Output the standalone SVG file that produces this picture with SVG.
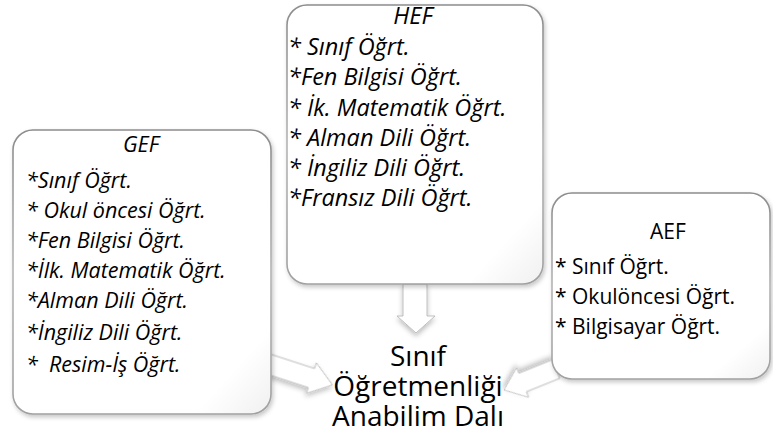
<svg xmlns="http://www.w3.org/2000/svg" width="773" height="437" viewBox="0 0 773 437">
  <defs>
    <linearGradient id="edge" x1="0" y1="0" x2="0" y2="1">
      <stop offset="0" stop-color="#8c8c8c"/>
      <stop offset="0.5" stop-color="#b4b4b4"/>
      <stop offset="1" stop-color="#a0a0a0"/>
    </linearGradient>
    <linearGradient id="face" x1="0" y1="0" x2="1" y2="1">
      <stop offset="0" stop-color="#ffffff"/>
      <stop offset="0.85" stop-color="#ffffff"/>
      <stop offset="1" stop-color="#f0f0f0"/>
    </linearGradient>
    <filter id="soft" x="-10%" y="-10%" width="125%" height="125%">
      <feDropShadow dx="1.5" dy="2.5" stdDeviation="2" flood-color="#000" flood-opacity="0.22"/>
    </filter>
    <filter id="arrowShade" x="-30%" y="-30%" width="160%" height="180%">
      <feDropShadow dx="0" dy="3" stdDeviation="2.5" flood-color="#000" flood-opacity="0.25"/>
    </filter>
  </defs>
  <style>
    .box { fill: url(#face); stroke: url(#edge); stroke-width: 1.6; filter: url(#soft); }
    .arrow { fill: #ffffff; stroke: #b8b8b8; stroke-width: 0.9; filter: url(#arrowShade); }
    .it { font-family: "Open Sans", "Liberation Sans", sans-serif; font-style: italic; font-size: 21.5px; fill: #000; }
    .it-wide { font-size: 23.5px; }
    .up { font-family: "Open Sans", "Liberation Sans", sans-serif; font-size: 21px; fill: #000; }
    .hub { font-family: "Open Sans", "Liberation Sans", sans-serif; font-size: 28px; fill: #000; text-anchor: middle; }
    .mid { text-anchor: middle; }
  </style>

  <!-- block arrows feeding the department label -->
  <g id="connectors">
    <polygon class="arrow" points="403,284 427,284 427,316 435,316 416,333 397,316 403,316"/>
    <polygon class="arrow" transform="translate(262,362) rotate(18)" points="0,-10 52,-10 52,-16 74,0 52,16 52,10 0,10"/>
    <polygon class="arrow" transform="translate(556,369) rotate(158)" points="0,-10 36,-10 36,-16 56,0 36,16 36,10 0,10"/>
  </g>

  <g id="gef">
    <rect class="box" x="13" y="130" width="258" height="284" rx="20"/>
    <text class="it" xml:space="preserve"><tspan class="mid" x="141" y="152">GEF</tspan><tspan x="26" y="188">*Sınıf Öğrt.</tspan><tspan x="26" y="218">* Okul öncesi Öğrt.</tspan><tspan x="26" y="248">*Fen Bilgisi Öğrt.</tspan><tspan x="26" y="278">*İlk. Matematik Öğrt.</tspan><tspan x="26" y="308">*Alman Dili Öğrt.</tspan><tspan x="26" y="340">*İngiliz Dili Öğrt.</tspan><tspan x="26" y="372">*  Resim-İş Öğrt.</tspan></text>
  </g>

  <g id="hef">
    <rect class="box" x="287" y="5" width="256" height="279" rx="20"/>
    <text class="it it-wide"><tspan class="mid" x="413" y="24">HEF</tspan><tspan x="288" y="55">* Sınıf Öğrt.</tspan><tspan x="288" y="85">*Fen Bilgisi Öğrt.</tspan><tspan x="288" y="116">* İk. Matematik Öğrt.</tspan><tspan x="288" y="146">* Alman Dili Öğrt.</tspan><tspan x="288" y="176">* İngiliz Dili Öğrt.</tspan><tspan x="288" y="206">*Fransız Dili Öğrt.</tspan></text>
  </g>

  <g id="aef">
    <rect class="box" x="552" y="193" width="218" height="186" rx="20"/>
    <text class="up"><tspan class="mid" x="668" y="239">AEF</tspan><tspan x="555" y="274">* Sınıf Öğrt.</tspan><tspan x="555" y="304">* Okulöncesi Öğrt.</tspan><tspan x="555" y="334">* Bilgisayar Öğrt.</tspan></text>
  </g>

  <g id="department">
    <text class="hub"><tspan x="418" y="366">Sınıf</tspan><tspan x="418" y="396">Öğretmenliği</tspan><tspan x="418" y="426">Anabilim Dalı</tspan></text>
  </g>
</svg>
